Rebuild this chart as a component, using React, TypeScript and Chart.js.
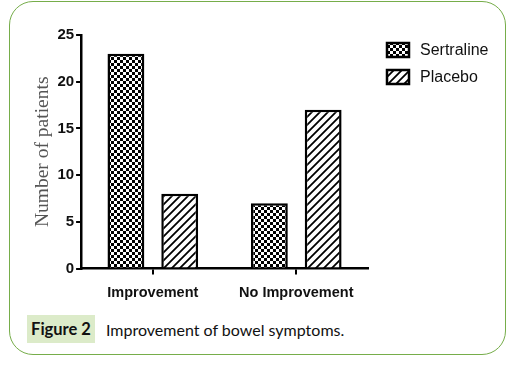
import React, { useEffect, useRef } from "react";
import { Chart, registerables } from "chart.js";

Chart.register(...registerables);

const categories: string[] = ["Improvement", "No Improvement"];
const seriesNames: string[] = ["Sertraline", "Placebo"];
const sertralineValues: number[] = [23, 7];
const placeboValues: number[] = [8, 17];
const yTicks: number[] = [0, 5, 10, 15, 20, 25];
const yTitle = "Number of patients";
const figureLabel = "Figure 2";
const figureCaption = "Improvement of bowel symptoms.";

const SANS = "'Liberation Sans', Arial, sans-serif";

function makeChecker(): CanvasPattern | string {
  const c = document.createElement("canvas");
  const s = 3;
  c.width = s * 2;
  c.height = s * 2;
  const g = c.getContext("2d");
  if (!g) return "#000";
  g.fillStyle = "#fff";
  g.fillRect(0, 0, s * 2, s * 2);
  g.fillStyle = "#000";
  g.fillRect(0, 0, s, s);
  g.fillRect(s, s, s, s);
  const p = g.createPattern(c, "repeat");
  return p || "#000";
}

function makeHatch(): CanvasPattern | string {
  const c = document.createElement("canvas");
  const p = 8;
  c.width = p;
  c.height = p;
  const g = c.getContext("2d");
  if (!g) return "#888";
  g.fillStyle = "#fff";
  g.fillRect(0, 0, p, p);
  g.strokeStyle = "#000";
  g.lineWidth = 1.8;
  g.beginPath();
  g.moveTo(-1, p + 1);
  g.lineTo(p + 1, -1);
  g.moveTo(-2, 2);
  g.lineTo(2, -2);
  g.moveTo(p - 2, p + 2);
  g.lineTo(p + 2, p - 2);
  g.stroke();
  const pat = g.createPattern(c, "repeat");
  return pat || "#888";
}

const legendPlugin = {
  id: "customLegend",
  afterDraw(chart: any) {
    const { ctx, chartArea } = chart;
    const x = chartArea.right + 19;
    const y0 = chartArea.top + 8;
    ctx.save();
    chart.data.datasets.forEach((ds: any, i: number) => {
      const y = y0 + i * 27;
      ctx.fillStyle = ds.backgroundColor;
      ctx.fillRect(x, y, 22, 14);
      ctx.strokeStyle = "#000";
      ctx.lineWidth = 2.5;
      ctx.strokeRect(x, y, 22, 14);
      ctx.fillStyle = "#111";
      ctx.font = "16px " + SANS;
      ctx.textBaseline = "middle";
      ctx.textAlign = "left";
      ctx.fillText(ds.label, x + 33, y + 8);
    });
    ctx.restore();
  },
};

function BarChart() {
  const ref = useRef<HTMLCanvasElement | null>(null);
  useEffect(() => {
    if (!ref.current) return;
    const checker = makeChecker();
    const hatch = makeHatch();
    const chart = new Chart(ref.current, {
      type: "bar",
      data: {
        labels: categories,
        datasets: [
          {
            label: seriesNames[0],
            data: sertralineValues,
            backgroundColor: checker as any,
            borderColor: "#000",
            borderWidth: 2.5,
            categoryPercentage: 0.75,
            barPercentage: 0.685,
          },
          {
            label: seriesNames[1],
            data: placeboValues,
            backgroundColor: hatch as any,
            borderColor: "#000",
            borderWidth: 2.5,
            categoryPercentage: 0.75,
            barPercentage: 0.685,
          },
        ],
      },
      options: {
        animation: false,
        responsive: false,
        maintainAspectRatio: false,
        layout: { padding: { left: 31, right: 157, top: 35, bottom: 1 } },
        plugins: {
          legend: { display: false },
          tooltip: { enabled: false },
        },
        scales: {
          x: {
            grid: {
              display: true,
              drawOnChartArea: false,
              offset: false,
              tickLength: 6,
              color: "#000",
              lineWidth: 2,
            },
            border: { display: true, color: "#000", width: 2.5 },
            ticks: {
              color: "#111",
              padding: 10,
              maxRotation: 0,
              minRotation: 0,
              autoSkip: false,
              font: { family: SANS, size: 14.5, weight: "bold" },
            },
          },
          y: {
            min: 0,
            max: 25,
            afterBuildTicks: (axis: any) => {
              axis.ticks = yTicks.map((v) => ({ value: v }));
            },
            grid: {
              display: true,
              drawOnChartArea: false,
              tickLength: 5,
              color: "#000",
              lineWidth: 2,
            },
            border: { display: true, color: "#000", width: 2.5 },
            ticks: {
              color: "#111",
              padding: 2,
              font: { family: SANS, size: 15, weight: "bold" },
            },
            title: {
              display: true,
              text: yTitle,
              color: "#555",
              padding: { top: 0, bottom: 1 },
              font: { family: "'Liberation Serif', 'Times New Roman', serif", size: 19.5, weight: "normal" },
            },
          },
        },
      },
      plugins: [legendPlugin],
    });
    return () => chart.destroy();
  }, []);
  return <canvas ref={ref} width={525} height={313} style={{ position: "absolute", left: 0, top: 0 }} />;
}

export default function App() {
  return (
    <div style={{ position: "fixed", left: 0, top: 0, width: 525, height: 366, background: "#fff", overflow: "hidden" }}>
      <div
        style={{
          position: "absolute",
          left: 9,
          top: 1,
          width: 497,
          height: 354,
          border: "1.5px solid #76ad4a",
          borderRadius: 24,
          boxSizing: "border-box",
        }}
      />
      <BarChart />
      <div
        style={{
          position: "absolute",
          left: 27,
          top: 315,
          width: 68,
          height: 28,
          background: "#dcebc9",
          boxSizing: "border-box",
          display: "flex",
          alignItems: "center",
          justifyContent: "center",
          fontFamily: "Lato, 'Open Sans', sans-serif",
          fontWeight: "bold",
          fontSize: 16.5,
          color: "#111",
        }}
      >
        {figureLabel}
      </div>
      <div
        style={{
          position: "absolute",
          left: 106,
          top: 315,
          height: 28,
          display: "flex",
          alignItems: "center",
          fontFamily: "Lato, 'Open Sans', sans-serif",
          fontSize: 16,
          color: "#111",
          whiteSpace: "nowrap",
        }}
      >
        {figureCaption}
      </div>
    </div>
  );
}
